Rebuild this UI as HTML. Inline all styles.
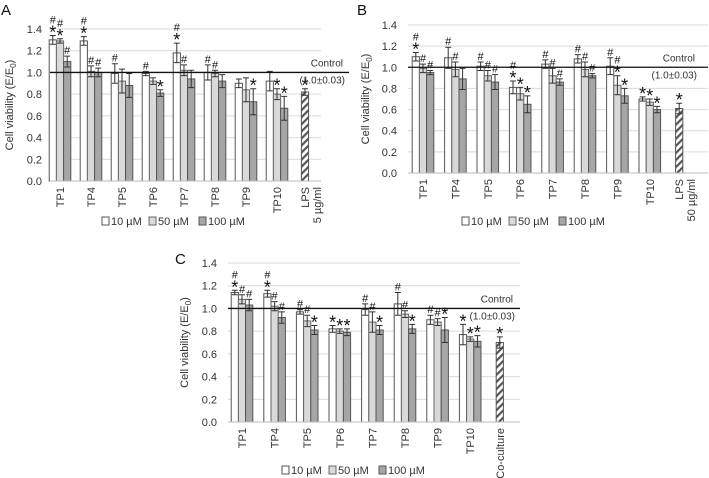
<!DOCTYPE html>
<html><head><meta charset="utf-8"><style>
html,body{margin:0;padding:0;background:#fff;}
svg{display:block;font-family:"Liberation Sans",sans-serif;}
</style></head><body>
<svg id="fig" width="709" height="478" viewBox="0 0 709 478">
<defs>
<pattern id="hatch" width="5" height="5" patternUnits="userSpaceOnUse" patternTransform="rotate(45)">
<rect width="5" height="5" fill="#fff"/><rect width="2.2" height="5" fill="#555"/>
</pattern>
</defs>
</svg>
<script>
const categories = ["TP1","TP4","TP5","TP6","TP7","TP8","TP9","TP10"];
const yTicks = ["0.0","0.2","0.4","0.6","0.8","1.0","1.2","1.4"];
// Panel A
const aS10 = [1.30,1.29,0.99,0.99,1.18,1.00,0.90,0.92];
const aS50 = [1.29,1.01,0.92,0.92,1.02,0.99,0.84,0.80];
const aS100 = [1.10,1.00,0.88,0.81,0.94,0.92,0.73,0.67];
const aE10 = [0.04,0.04,0.09,0.02,0.09,0.07,0.04,0.09];
const aE50 = [0.02,0.05,0.11,0.03,0.05,0.03,0.11,0.05];
const aE100 = [0.05,0.04,0.11,0.03,0.08,0.06,0.12,0.11];
const aRef = 0.82, aRefErr = 0.03;
const aMarks = [["#*","#*","#"],["#*","#","#"],["#","",""],["#","","*"],["#*","#",""],["#","#",""],["","","*"],["","*","*"]];
// Panel B
const bS10 = [1.10,1.09,1.01,0.81,1.03,1.08,1.01,0.70];
const bS50 = [0.99,0.98,0.92,0.75,0.92,0.98,0.83,0.67];
const bS100 = [0.95,0.89,0.86,0.65,0.86,0.92,0.73,0.60];
const bE10 = [0.04,0.10,0.04,0.06,0.04,0.04,0.08,0.02];
const bE50 = [0.04,0.07,0.05,0.06,0.07,0.07,0.09,0.03];
const bE100 = [0.02,0.10,0.07,0.08,0.03,0.02,0.07,0.03];
const bRef = 0.61, bRefErr = 0.05;
const bMarks = [["#*","#","#"],["#","#",""],["#","#","#"],["#*","*","*"],["#","#","#"],["#","#","#"],["#","#*","*"],["*","*","*"]];
// Panel C
const cS10 = [1.14,1.13,0.97,0.82,0.99,1.04,0.90,0.77];
const cS50 = [1.08,1.02,0.89,0.80,0.88,0.95,0.88,0.73];
const cS100 = [1.03,0.92,0.81,0.79,0.81,0.82,0.81,0.71];
const cE10 = [0.02,0.03,0.02,0.03,0.05,0.10,0.04,0.09];
const cE50 = [0.04,0.04,0.05,0.02,0.09,0.03,0.03,0.02];
const cE100 = [0.05,0.05,0.04,0.03,0.04,0.04,0.11,0.05];
const cRef = 0.70, cRefErr = 0.05;
const cMarks = [["#*","#","#"],["#*","#","#"],["#","#","*"],["*","*","*"],["#","#","*"],["#","#","*"],["#","#","*"],["*","*","*"]];

const NS="http://www.w3.org/2000/svg";
const svg=document.getElementById('fig');
function mk(tag,attrs,parent,text){const e=document.createElementNS(NS,tag);for(const k in attrs)e.setAttribute(k,attrs[k]);if(text!==undefined)e.textContent=text;(parent||svg).appendChild(e);return e;}
const fills=["#ffffff","#d9d9d9","#a6a6a6"];
const strokes=["#555","#666","#555"];

function panel(p){
  const g=mk('g',{});
  
  
  const y=v=>p.y0-(v/1.4)*(p.y0-p.y14);
  const t=mk('text',{x:p.letterX,y:p.letterY,'font-size':15,fill:'#111'},g,p.id);
  
  
  yTicks.forEach((lab,i)=>{
    const v=parseFloat(lab);const yy=y(v);
    if(i>0){const gl=mk('line',{x1:p.x0,x2:p.gridEnd,y1:yy,y2:yy,stroke:'#d9d9d9','stroke-width':1},g);
      }
    const tl=mk('text',{x:p.tickX,y:yy+4,'font-size':11,'text-anchor':'end',fill:'#333'},g,lab);
    
  });
  const yl=mk('text',{x:0,y:0,'font-size':11,'text-anchor':'middle',fill:'#333',transform:`translate(${p.ylabX},${(p.y0+p.y14)/2}) rotate(-90)`},g);
  
  yl.appendChild(document.createTextNode('Cell viability (E/E'));
  mk('tspan',{'font-size':8,dy:3},yl,'0');
  mk('tspan',{dy:-3},yl,')');
  const series=[p.s10,p.s50,p.s100], errs=[p.e10,p.e50,p.e100];
  const bw=7.2;
  categories.forEach((c,i)=>{
    const cx=p.c0+i*p.step;
    series.forEach((s,j)=>{
      const bx=cx-1.5*bw+j*bw;
      const r=mk('rect',{x:bx,y:y(s[i]),width:bw,height:p.y0-y(s[i]),fill:fills[j],stroke:strokes[j],'stroke-width':1},g);
      
      
      const e=errs[j][i], mx=bx+bw/2;
      const eb=mk('path',{d:`M${mx},${y(s[i]-e)}V${y(s[i]+e)}M${mx-3},${y(s[i]+e)}H${mx+3}M${mx-3},${y(s[i]-e)}H${mx+3}`,stroke:'#333','stroke-width':1,fill:'none'},g);
      
      const m=p.marks[i][j];let ty=y(s[i]+e)-2;
      if(m.includes('*')){const st=mk('text',{x:mx,y:ty+5,'font-size':18,'text-anchor':'middle',fill:'#111'},g,'*');
        ty-=10;}
      if(m.includes('#')){const h=mk('text',{x:mx,y:ty,'font-size':11,'text-anchor':'middle',fill:'#111'},g,'#');
        }
    });
    const cl=mk('text',{x:0,y:0,'font-size':11,'text-anchor':'end',fill:'#333',transform:`translate(${cx+4},${p.y0+6}) rotate(-90)`},g,c);
    
  });
  const rx=p.c0+8*p.step-3;
  const rb=mk('rect',{x:rx-bw/2,y:y(p.ref),width:bw,height:p.y0-y(p.ref),fill:'url(#hatch)',stroke:'#555','stroke-width':1},g);
  
  const re=mk('path',{d:`M${rx},${y(p.ref-p.refErr)}V${y(p.ref+p.refErr)}M${rx-3},${y(p.ref+p.refErr)}H${rx+3}M${rx-3},${y(p.ref-p.refErr)}H${rx+3}`,stroke:'#333',fill:'none'},g);
  
  const rs=mk('text',{x:rx,y:y(p.ref+p.refErr)+3,'font-size':18,'text-anchor':'middle',fill:'#111'},g,'*');
  
  p.refLabel.forEach((l,k)=>{
    const rl=mk('text',{x:0,y:0,'font-size':11,'text-anchor':'end',fill:'#333',transform:`translate(${rx+4+k*12},${p.y0+6}) rotate(-90)`},g,l);
    
  });
  const ax=mk('line',{x1:p.x0,x2:p.gridEnd,y1:p.y0,y2:p.y0,stroke:'#bbb'},g);
  
  const cln=mk('line',{x1:p.x0,x2:p.ctrlEnd,y1:y(1),y2:y(1),stroke:'#111','stroke-width':1.3},g);
  
  const ct=mk('text',{x:p.ctrlTX,y:y(1)-6,'font-size':10,'text-anchor':'end',fill:'#333'},g,'Control');
  
  const ct2=mk('text',{x:p.ctrlTX+2,y:y(1)+11,'font-size':10,'text-anchor':'end',fill:'#333'},g,'(1.0±0.03)');
  
  const labs=['10 µM','50 µM','100 µM'];let lx=p.legX;
  labs.forEach((l,j)=>{
    const le=mk('g',{},g);
    
    
    mk('rect',{x:lx,y:p.legY-8,width:7,height:8,fill:fills[j],stroke:strokes[j]},le);
    mk('text',{x:lx+9,y:p.legY,'font-size':11,fill:'#333'},le,l);
    lx+=j==0?47:50;
  });
}
panel({id:'A',letterX:1,letterY:15,x0:50,gridEnd:321,ctrlEnd:349,y0:181,y14:29,c0:60,step:31,tickX:42,ylabX:13,
  s10:aS10,s50:aS50,s100:aS100,e10:aE10,e50:aE50,e100:aE100,ref:aRef,refErr:aRefErr,marks:aMarks,refLabel:['LPS','5 µg/ml'],
  ctrlTX:343,legX:102,legY:225});
panel({id:'B',letterX:357,letterY:15,x0:408,gridEnd:708,ctrlEnd:708,y0:173,y14:25,c0:423,step:32.4,tickX:397,ylabX:369,
  s10:bS10,s50:bS50,s100:bS100,e10:bE10,e50:bE50,e100:bE100,ref:bRef,refErr:bRefErr,marks:bMarks,refLabel:['LPS','50 µg/ml'],
  ctrlTX:695,legX:462,legY:225});
panel({id:'C',letterX:175,letterY:264,x0:228,gridEnd:520,ctrlEnd:520,y0:422,y14:263,c0:242,step:32.6,tickX:217,ylabX:188,
  s10:cS10,s50:cS50,s100:cS100,e10:cE10,e50:cE50,e100:cE100,ref:cRef,refErr:cRefErr,marks:cMarks,refLabel:['Co-culture'],
  ctrlTX:513,legX:282,legY:474});
</script>
</body></html>
